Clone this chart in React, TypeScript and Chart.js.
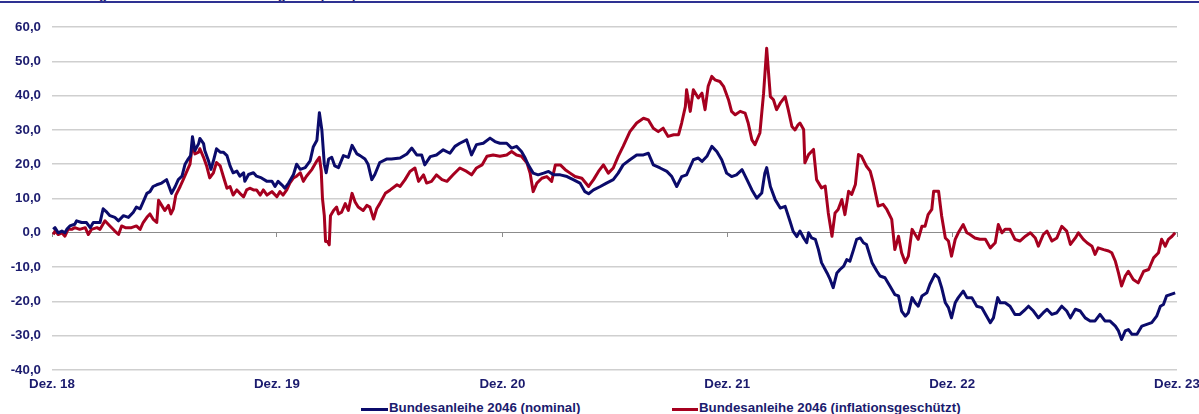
import React, { useEffect, useRef } from "react";
import { Chart, registerables } from "chart.js";

Chart.register(...registerables);

// ---- data ----
const titleText = "Kursentwicklung seit Dezember 2018 im Vergleich (in %)";
const xTickDays = [0, 365, 731, 1096, 1461, 1826];
const xTickLabels = ["Dez. 18", "Dez. 19", "Dez. 20", "Dez. 21", "Dez. 22", "Dez. 23"];
const seriesNames = ["Bundesanleihe 2046 (nominal)", "Bundesanleihe 2046 (inflationsgeschützt)"];

// days since end of Dec 2018
const nominalDays = [
  2, 5, 10, 16, 21, 24, 29, 37, 40, 48, 56, 62, 67, 78, 83, 89, 94, 102, 108, 116, 124, 132, 137, 143, 148, 154, 159, 164, 170, 178,
  186, 189, 194, 200, 205, 211, 216, 221, 225, 228, 232, 238, 240, 246, 248, 254, 258, 262, 267, 273, 278, 284, 289, 294, 300, 305, 311, 313, 319, 327,
  332, 340, 349, 357, 362, 367, 373, 378, 384, 392, 397, 403, 411, 419, 424, 430, 434, 438, 442, 445, 449, 454, 459, 465, 473, 481, 487, 495, 500, 508,
  513, 519, 524, 532, 543, 551, 565, 576, 584, 592, 600, 605, 614, 624, 635, 646, 654, 662, 673, 681, 689, 700, 711, 719, 727, 738, 746, 754, 762, 768,
  773, 781, 789, 798, 806, 814, 825, 836, 846, 857, 865, 871, 879, 890, 900, 911, 919, 927, 938, 949, 960, 968, 976, 987, 998, 1006, 1014, 1022, 1030, 1041,
  1049, 1055, 1063, 1071, 1079, 1087, 1095, 1103, 1111, 1120, 1128, 1136, 1144, 1152, 1157, 1160, 1166, 1174, 1182, 1190, 1198, 1203, 1209, 1214, 1220, 1225, 1228, 1233, 1239, 1244,
  1249, 1258, 1263, 1268, 1274, 1279, 1285, 1290, 1295, 1301, 1306, 1312, 1317, 1322, 1331, 1339, 1344, 1352, 1360, 1368, 1374, 1379, 1385, 1390, 1396, 1401, 1406, 1412, 1420, 1425,
  1433, 1439, 1444, 1450, 1455, 1460, 1466, 1471, 1479, 1485, 1493, 1501, 1509, 1517, 1523, 1528, 1535, 1539, 1547, 1555, 1563, 1571, 1580, 1585, 1593, 1601, 1609, 1615, 1623, 1631,
  1639, 1647, 1653, 1661, 1669, 1677, 1685, 1693, 1701, 1709, 1717, 1726, 1731, 1736, 1742, 1747, 1753, 1761, 1769, 1777, 1785, 1793, 1799, 1804, 1809, 1815, 1823,
];
const nominalValues = [
  1, 1.5, 0, 0.5, 0, 1, 2, 2.5, 3.5, 3, 3, 1.5, 3, 3, 7, 6, 5, 4.5, 3.5, 5, 4.5, 6, 7.5, 7, 9, 11.5, 12, 13.5, 14, 14.5,
  15.5, 14, 11.5, 13.5, 15.5, 16.5, 20, 21.5, 22.5, 28, 24, 26, 27.5, 26, 24, 21, 18.5, 21, 24.5, 23.5, 23.5, 22.5, 19.5, 17.5, 18, 16.5, 17.5, 15, 17, 17.5,
  16.5, 16, 15, 15, 13.5, 15, 14, 13, 14.5, 17, 20, 18.5, 19, 21, 25, 27, 35, 30, 20, 17.5, 21.5, 22, 19.5, 19, 22.5, 22, 25.5, 23, 22.5, 21.5,
  20, 15.5, 17, 20.5, 21.5, 21.5, 21.8, 23, 24.7, 22.7, 22.7, 19.8, 22.2, 22.7, 24.2, 23.2, 25.2, 26.1, 27.1, 22.7, 25.7, 26.1, 27.6, 26.6, 26.1, 26.1, 24.7, 25.2, 23.7, 21.8,
  19.8, 17.4, 16.9, 17.4, 17.9, 16.9, 16.9, 16.4, 15.5, 14.5, 12, 11.4, 12.5, 13.5, 14.5, 15.5, 17.4, 19.8, 21.3, 22.7, 22.7, 23.2, 19.8, 18.9, 17.9, 16.4, 13.5, 16.4, 16.9, 21.3,
  21.8, 20.8, 22.3, 25.2, 23.7, 21.3, 17.4, 16.4, 16.9, 18.4, 15.5, 12.5, 10.1, 11.6, 17.4, 19, 13.5, 9.6, 7.2, 7.7, 3.3, 0.4, -1.1, 0.5, -1.5, -2.9, 0, -1.5, -1.9, -4.9,
  -8.7, -11.7, -13.6, -16, -11.7, -10.7, -9.7, -7.8, -8.3, -4.9, -1.9, -1.5, -2.9, -3.4, -8.7, -11.2, -12.6, -13.1, -15.5, -18, -18.4, -22.8, -24.3, -23.3, -18.9, -20.4, -21.4, -18.4, -17.5, -15,
  -12.1, -13.1, -16, -20.4, -21.8, -24.8, -20.4, -18.9, -17, -18.9, -18.9, -21.4, -21.8, -24.3, -26.2, -24.8, -18.9, -20.4, -20.4, -21.4, -23.8, -23.8, -22.3, -21.4, -22.8, -24.8, -23.3, -22.3, -23.8, -23.3,
  -21.4, -22.8, -24.8, -22.3, -22.8, -24.8, -25.7, -25.7, -23.8, -25.7, -25.7, -27.2, -28.6, -31.1, -28.6, -28.2, -29.6, -29.6, -27.2, -26.7, -26.2, -24.3, -21.4, -20.9, -18.4, -18, -17.5,
];

const linkerDays = [
  2, 5, 10, 16, 21, 26, 32, 37, 45, 54, 59, 64, 73, 78, 86, 94, 102, 108, 113, 119, 129, 137, 143, 148, 154, 159, 164, 170, 173, 178,
  183, 189, 193, 197, 201, 208, 213, 219, 224, 228, 232, 238, 240, 246, 251, 256, 262, 267, 273, 278, 284, 289, 294, 300, 305, 311, 316, 321, 327, 332,
  338, 343, 349, 357, 365, 370, 375, 381, 386, 392, 397, 403, 408, 413, 422, 430, 434, 437, 439, 442, 444, 447, 450, 452, 457, 462, 465, 470, 476, 481,
  487, 492, 497, 505, 511, 516, 522, 527, 532, 541, 549, 560, 565, 573, 581, 589, 595, 603, 608, 616, 624, 633, 641, 651, 662, 673, 681, 689, 698, 706,
  716, 727, 738, 746, 754, 762, 771, 776, 781, 787, 795, 803, 811, 817, 825, 833, 841, 849, 860, 871, 879, 887, 895, 903, 911, 919, 927, 938, 949, 960,
  968, 976, 984, 992, 1000, 1009, 1017, 1022, 1028, 1030, 1036, 1041, 1049, 1055, 1060, 1065, 1071, 1076, 1084, 1090, 1098, 1103, 1109, 1117, 1125, 1130, 1136, 1141, 1149, 1155,
  1160, 1166, 1171, 1176, 1182, 1190, 1195, 1201, 1206, 1211, 1214, 1220, 1222, 1228, 1236, 1241, 1249, 1255, 1260, 1266, 1271, 1276, 1282, 1287, 1293, 1298, 1304, 1309, 1314, 1322,
  1328, 1333, 1341, 1349, 1355, 1363, 1368, 1374, 1379, 1385, 1390, 1396, 1401, 1406, 1412, 1417, 1422, 1428, 1431, 1439, 1444, 1450, 1455, 1460, 1466, 1471, 1479, 1485, 1490, 1498,
  1506, 1515, 1523, 1531, 1536, 1542, 1547, 1555, 1563, 1571, 1580, 1588, 1596, 1601, 1609, 1615, 1623, 1631, 1639, 1647, 1653, 1661, 1666, 1674, 1680, 1688, 1693, 1698, 1707, 1715,
  1720, 1726, 1731, 1736, 1742, 1747, 1755, 1763, 1772, 1780, 1788, 1796, 1801, 1807, 1812, 1818, 1823,
];
const linkerValues = [
  -0.5, 0.5, -0.5, 0, -1, 1, 1, 1.5, 1, 1.5, -0.5, 1, 1.5, 1, 3.5, 2, 0.5, -0.5, 2, 1.5, 1.5, 2, 1, 3, 4.5, 5.5, 4, 3, 9.5, 8,
  6.5, 8, 5.5, 7, 11, 13.5, 15.5, 18, 20, 26, 23, 23.5, 24.5, 22, 19.5, 16, 17.5, 20.5, 19.5, 16.5, 13, 13.5, 11, 12.5, 11.5, 10.5, 12.5, 13, 12.5, 12.5,
  11, 12.5, 11, 12, 10.5, 12, 11, 12.5, 14.5, 16, 16.5, 17.5, 15, 16.5, 18.5, 21, 22, 18, 10, 5, -2.5, -2.5, -3.5, 5, 6.5, 7.5, 5.5, 6, 8.5, 6.5,
  11.5, 9, 7.5, 6.5, 8, 7.5, 4, 7, 8.5, 11.5, 12.5, 14, 13.5, 15.5, 17.9, 18.9, 15, 16.9, 14.5, 15, 16.9, 15.5, 15, 16.9, 18.9, 17.9, 16.9, 18.9, 19.8, 22.3,
  22.7, 22.3, 22.7, 23.7, 22.7, 22.3, 20.3, 17.4, 12, 14.5, 15.9, 16.4, 15, 19.8, 19.8, 18.4, 17.4, 16.4, 15.9, 13.5, 15.5, 17.9, 19.8, 17.4, 18.9, 22.3, 25.2, 29.5, 32, 33.4,
  32.9, 30.5, 29.5, 30.5, 28.1, 28.6, 28.6, 32, 36.8, 41.7, 35.4, 41.7, 39.3, 40.7, 35.9, 42.7, 45.6, 44.6, 44.1, 42.7, 38.8, 35.4, 34.4, 35.4, 34.9, 32, 27.1, 25.7, 29.1, 40.7,
  53.8, 39.7, 38.8, 35.9, 37.8, 39.7, 35.9, 31, 30, 31.5, 32, 30.1, 20.4, 22.8, 24.3, 15.5, 13.1, 13.6, 5.8, -1, 5.8, 6.8, 9.7, 5.3, 12.1, 11.2, 14.1, 22.8, 22.3, 19.4,
  18, 14.6, 7.8, 8.3, 6.8, 3.9, -4.9, -1, -5.8, -8.7, -6.8, 1, -0.5, -1.9, 1.9, 1.9, 5.3, 6.8, 12.1, 12.1, 4.9, -1.5, -2.4, -6.8, -1.9, 0, 2.4, 0, -0.5, -1.5,
  -1.9, -1.9, -4.4, -2.9, 2.4, 0, 1, 1, -1.9, -2.4, -1, 0, -1.5, -3.9, -0.5, 0.5, -2.4, -1.5, 1.9, 0.5, -3.4, -1.5, 0, -1.9, -2.9, -3.9, -6.3, -4.4, -4.9, -5.3,
  -5.8, -8.3, -11.7, -15.5, -12.6, -11.2, -13.6, -14.6, -11.2, -10.7, -7.3, -5.8, -1.9, -3.9, -1.9, -1, 0,
];

const NAVY_LINE = "#0b0b6b";
const RED_LINE = "#a6001f";
const TEXT = "#1b1b6e";
const FONT = "'Liberation Sans', Arial, Helvetica, sans-serif";

export default function App() {
  const canvasRef = useRef<HTMLCanvasElement | null>(null);

  useEffect(() => {
    const canvas = canvasRef.current;
    if (!canvas) return;
    const toPoints = (days: number[], vals: number[]) => days.map((d, i) => ({ x: d, y: vals[i] }));
    const setTicks = (scale: any) => {
      scale.ticks = xTickDays.map((v) => ({ value: v }));
    };
    const chart = new Chart(canvas, {
      type: "line",
      data: {
        datasets: [
          {
            label: seriesNames[0],
            data: toPoints(nominalDays, nominalValues),
            borderColor: NAVY_LINE,
            backgroundColor: NAVY_LINE,
            borderWidth: 3,
            borderJoinStyle: "round",
            pointRadius: 0,
            tension: 0,
            fill: false,
          },
          {
            label: seriesNames[1],
            data: toPoints(linkerDays, linkerValues),
            borderColor: RED_LINE,
            backgroundColor: RED_LINE,
            borderWidth: 3,
            borderJoinStyle: "round",
            pointRadius: 0,
            tension: 0,
            fill: false,
          },
        ],
      },
      options: {
        animation: false,
        responsive: false,
        maintainAspectRatio: false,
        events: [],
        layout: { padding: { top: 27, right: 22, left: 0, bottom: 0 } },
        plugins: { legend: { display: false }, tooltip: { enabled: false }, title: { display: false } },
        scales: {
          x: {
            type: "linear",
            min: 0,
            max: 1826,
            afterBuildTicks: setTicks,
            afterFit: (s: any) => {
              s.height = 30;
            },
            ticks: {
              autoSkip: false,
              maxRotation: 0,
              padding: -2,
              color: TEXT,
              font: { family: FONT, size: 13.3, weight: "bold" },
              callback: (_v: any, i: number) => xTickLabels[i],
            },
            grid: { display: false },
            border: { display: false },
          },
          x0: {
            type: "linear",
            min: 0,
            max: 1826,
            position: { y: 0 } as any,
            afterBuildTicks: setTicks,
            ticks: { display: false },
            grid: { drawOnChartArea: false, drawTicks: true, tickLength: 4, color: "#8c8c8c", lineWidth: 1 },
            border: { display: true, color: "#8c8c8c", width: 1 },
          },
          y: {
            min: -40,
            max: 60,
            afterFit: (s: any) => {
              s.width = 52;
            },
            ticks: {
              stepSize: 10,
              padding: 11,
              color: TEXT,
              font: { family: FONT, size: 13.3, weight: "bold" },
              callback: (v: any) => Number(v).toFixed(1).replace(".", ","),
            },
            grid: {
              drawTicks: false,
              color: (ctx: any) => (ctx.tick && ctx.tick.value === 0 ? "rgba(0,0,0,0)" : "#cfcfcf"),
              lineWidth: 1.5,
            },
            border: { display: false },
          },
        },
      },
    });
    return () => chart.destroy();
  }, []);

  const legendText: React.CSSProperties = {
    position: "absolute",
    top: 400,
    lineHeight: "16px",
    fontFamily: FONT,
    fontWeight: "bold",
    fontSize: "13.3px",
    color: TEXT,
    whiteSpace: "nowrap",
  };
  const legendLine = (left: number, width: number, color: string): React.CSSProperties => ({
    position: "absolute",
    left,
    top: 407.5,
    width,
    height: 3,
    background: color,
  });

  return (
    <div style={{ position: "absolute", left: 0, top: 0, width: 1199, height: 414, overflow: "hidden", background: "#fff" }}>
      <div
        style={{
          position: "absolute",
          left: 0,
          top: -13,
          lineHeight: "16px",
          fontFamily: FONT,
          fontWeight: "bold",
          fontSize: "13.3px",
          color: TEXT,
          whiteSpace: "nowrap",
        }}
      >
        {titleText}
      </div>
      <div style={{ position: "absolute", left: 0, top: 1, width: 1199, height: 2, background: "#2e3192" }} />
      <canvas ref={canvasRef} width={1199} height={400} style={{ position: "absolute", left: 0, top: 0, width: 1199, height: 400 }} />
      <div style={legendLine(361, 27, NAVY_LINE)} />
      <div style={{ ...legendText, left: 389 }}>{seriesNames[0]}</div>
      <div style={legendLine(672, 26, RED_LINE)} />
      <div style={{ ...legendText, left: 699 }}>{seriesNames[1]}</div>
    </div>
  );
}
